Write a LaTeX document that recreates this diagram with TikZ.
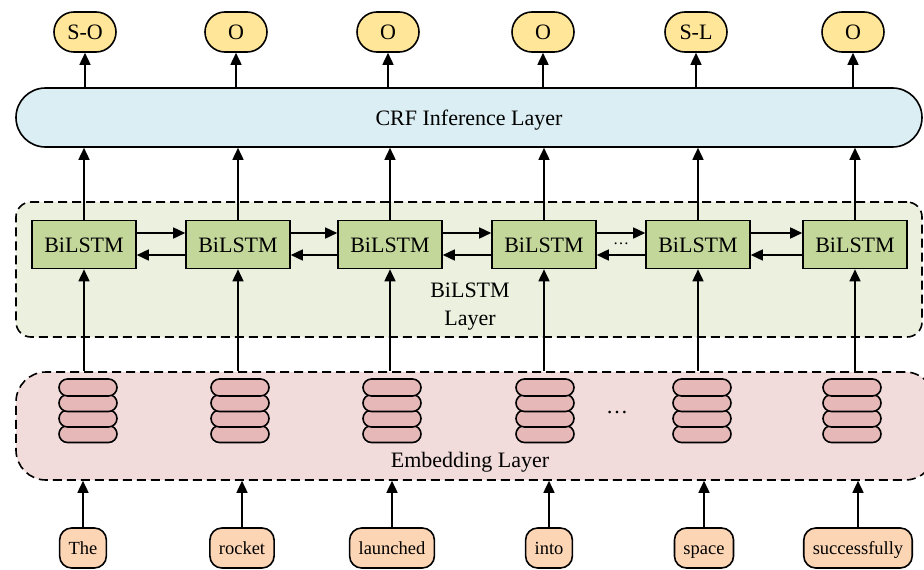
\documentclass[tikz,border=0pt]{standalone}
\usepackage{fontspec}
\setmainfont{Liberation Serif}
\usetikzlibrary{arrows.meta,shapes.misc}
\definecolor{outY}{HTML}{FFE699}
\definecolor{crfB}{HTML}{DAEEF3}
\definecolor{blG}{HTML}{EBF1DE}
\definecolor{boxG}{HTML}{C4D79B}
\definecolor{embP}{HTML}{F2DCDB}
\definecolor{pillP}{HTML}{E6B9B8}
\definecolor{wordO}{HTML}{FCD5B5}
\begin{document}
\begin{tikzpicture}[x=1pt,y=-1pt,line width=1.6pt,
  font=\fontsize{22}{28}\selectfont,
  arr/.style={-{Triangle[length=12pt,width=11pt]}},
  layerbox/.style={draw,dash pattern=on 9pt off 5pt,inner sep=0pt},
  outnode/.style={rounded rectangle,draw,fill=outY,minimum width=62pt,minimum height=40pt,inner sep=0pt,text height=15pt,text depth=0pt},
  lstmbox/.style={rectangle,draw,fill=boxG,minimum width=104pt,minimum height=48pt,inner sep=0pt,text height=15pt,text depth=0pt},
  pill/.style={rounded rectangle,draw,fill=pillP,minimum width=58pt,minimum height=17pt,inner sep=0pt},
  wordnode/.style={rectangle,rounded corners=12pt,draw,fill=wordO,minimum height=40pt,inner xsep=9pt,inner ysep=0pt,text height=13pt,text depth=0pt,font=\fontsize{18.5}{22}\selectfont},
  dotsnode/.style={inner sep=0pt}]
\useasboundingbox (0,0) rectangle (924,570);
\clip (0,0) rectangle (924,570);

% layers
\node[layerbox,fill=embP,rounded corners=30pt,minimum width=919pt,minimum height=108pt] (emb) at (475.5,426) {};
\node[layerbox,fill=blG,rounded corners=15pt,minimum width=906pt,minimum height=135pt] (bl) at (469,269.5) {};
\node[rounded rectangle,draw,fill=crfB,minimum width=906pt,minimum height=59pt,inner sep=0pt,text height=15pt,text depth=0pt] (crf) at (469,117.5) {CRF Inference Layer};
\node[align=center,inner sep=0pt] (bltxt) at (470,307) {BiLSTM\\Layer};
\node[inner sep=0pt,text height=15pt,text depth=0pt] (embtxt) at (470,460) {Embedding Layer};

% columns
\foreach \i/\ox/\bx/\sx/\wx/\ol/\wl in {
  1/85/84/88/83/S-O/The,
  2/236/238/240/242/O/rocket,
  3/388/390/392/392/O/launched,
  4/543/544/545/549/O/into,
  5/696/698/702/704/S-L/space,
  6/853/855/852/858/O/successfully}{
  \node[outnode] (o\i) at (\ox,32) {\ol};
  \node[lstmbox] (b\i) at (\bx,244.5) {BiLSTM};
  \node[pill] (s\i d) at (\sx,434) {};
  \node[pill] (s\i c) at (\sx,418.5) {};
  \node[pill] (s\i b) at (\sx,403) {};
  \node[pill] (s\i a) at (\sx,387.5) {};
  \node[wordnode] (w\i) at (\wx,548) {\wl};
  \draw[arr] (w\i.north) -- (w\i.north |- emb.south);
  \draw[arr] (b\i.south |- emb.north) -- (b\i.south);
  \draw[arr] (b\i.north) -- (b\i.north |- crf.south);
  \draw[arr] (o\i.south |- crf.north) -- (o\i.south);
}

% recurrent connections
\foreach \i/\j in {1/2,2/3,3/4,4/5,5/6}{
  \draw[arr] ([yshift=11.5pt]b\i.east) -- ([yshift=11.5pt]b\j.west);
  \draw[arr] ([yshift=-10.5pt]b\j.west) -- ([yshift=-10.5pt]b\i.east);
}

\node[dotsnode,font=\fontsize{16}{18}\selectfont] (d1) at (621,244) {\dots};
\node[dotsnode] (d2) at (617,413) {\dots};
\end{tikzpicture}
\end{document}
